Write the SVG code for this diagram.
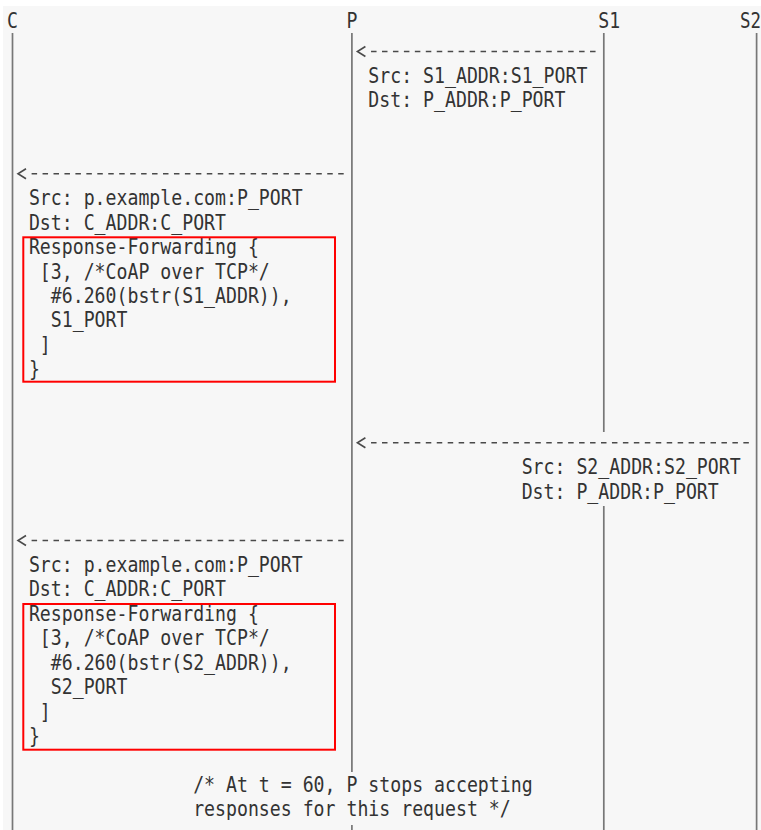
<svg xmlns="http://www.w3.org/2000/svg" width="761" height="830" viewBox="0 0 761 830">
<style>
text{font-family:"DejaVu Sans Mono","Liberation Mono",monospace;font-size:22px;fill:#333333;}
.life{stroke:#777;stroke-width:1.7;fill:none;}
.dash{stroke:#4a4a4a;stroke-width:1.6;stroke-dasharray:5.5 5.45;fill:none;}
.head{stroke:#4a4a4a;stroke-width:1.6;fill:none;stroke-linejoin:miter;}
.hl{fill:none;stroke:#ff0000;stroke-width:2;}
</style>
<rect x="0" y="0" width="761" height="830" fill="#f7f7f7"/>
<rect x="0" y="0" width="761" height="6" fill="#ffffff"/>
<rect x="0" y="0" width="3" height="830" fill="#ffffff"/>

<g id="C">
<text x="7" y="28" textLength="10.95" lengthAdjust="spacingAndGlyphs">C</text>
<line class="life" x1="12.5" y1="33" x2="12.5" y2="830"/>
</g>
<g id="P">
<text x="346.45" y="28" textLength="10.95" lengthAdjust="spacingAndGlyphs">P</text>
<path class="life" d="M351.9 33 V772 M351.9 825 V830"/>
</g>
<g id="S1">
<text x="598.3" y="28" textLength="21.9" lengthAdjust="spacingAndGlyphs">S1</text>
<path class="life" d="M603.8 33 V432 M603.8 506 V830"/>
</g>
<g id="S2">
<text x="740" y="28" textLength="21" lengthAdjust="spacingAndGlyphs">S2</text>
<line class="life" x1="756.6" y1="33" x2="756.6" y2="830"/>
</g>

<g id="connectors">
<g id="m1"><path class="dash" d="M371.05 51.5 H595.6"/><path class="head" d="M365.4 46.5 L357.4 51.5 L365.4 56.5"/></g>
<g id="m2"><path class="dash" d="M31.6 173.75 H343.8"/><path class="head" d="M26 168.75 L18 173.75 L26 178.75"/></g>
<g id="m3"><path class="dash" d="M371.05 442.7 H749.9"/><path class="head" d="M365.4 437.7 L357.4 442.7 L365.4 447.7"/></g>
<g id="m4"><path class="dash" d="M31.6 540.5 H343.8"/><path class="head" d="M26 535.5 L18 540.5 L26 545.5"/></g>
</g>

<g id="label-m1">
<text x="368.35" y="82.95" textLength="219" lengthAdjust="spacingAndGlyphs">Src: S1_ADDR:S1_PORT</text>
<text x="368.35" y="107.4" textLength="197.1" lengthAdjust="spacingAndGlyphs">Dst: P_ADDR:P_PORT</text>
</g>

<g id="label-m2">
<text x="28.9" y="205.2" textLength="273.75" lengthAdjust="spacingAndGlyphs">Src: p.example.com:P_PORT</text>
<text x="28.9" y="229.65" textLength="197.1" lengthAdjust="spacingAndGlyphs">Dst: C_ADDR:C_PORT</text>
<text x="28.9" y="254.1" textLength="229.95" lengthAdjust="spacingAndGlyphs">Response-Forwarding {</text>
<text x="39.85" y="278.55" textLength="229.95" lengthAdjust="spacingAndGlyphs">[3, /*CoAP over TCP*/</text>
<text x="50.8" y="303" textLength="240.9" lengthAdjust="spacingAndGlyphs">#6.260(bstr(S1_ADDR)),</text>
<text x="50.8" y="327.45" textLength="76.65" lengthAdjust="spacingAndGlyphs">S1_PORT</text>
<text x="39.85" y="351.9" textLength="10.95" lengthAdjust="spacingAndGlyphs">]</text>
<text x="28.9" y="376.35" textLength="10.95" lengthAdjust="spacingAndGlyphs">}</text>
<rect class="hl" x="23.3" y="237.3" width="311.7" height="144.4"/>
</g>

<g id="label-m3">
<text x="521.65" y="474.15" textLength="219" lengthAdjust="spacingAndGlyphs">Src: S2_ADDR:S2_PORT</text>
<text x="521.65" y="498.6" textLength="197.1" lengthAdjust="spacingAndGlyphs">Dst: P_ADDR:P_PORT</text>
</g>

<g id="label-m4">
<text x="28.9" y="572" textLength="273.75" lengthAdjust="spacingAndGlyphs">Src: p.example.com:P_PORT</text>
<text x="28.9" y="596.4" textLength="197.1" lengthAdjust="spacingAndGlyphs">Dst: C_ADDR:C_PORT</text>
<text x="28.9" y="620.85" textLength="229.95" lengthAdjust="spacingAndGlyphs">Response-Forwarding {</text>
<text x="39.85" y="645.3" textLength="229.95" lengthAdjust="spacingAndGlyphs">[3, /*CoAP over TCP*/</text>
<text x="50.8" y="669.75" textLength="240.9" lengthAdjust="spacingAndGlyphs">#6.260(bstr(S2_ADDR)),</text>
<text x="50.8" y="694.2" textLength="76.65" lengthAdjust="spacingAndGlyphs">S2_PORT</text>
<text x="39.85" y="718.65" textLength="10.95" lengthAdjust="spacingAndGlyphs">]</text>
<text x="28.9" y="743.1" textLength="10.95" lengthAdjust="spacingAndGlyphs">}</text>
<rect class="hl" x="23.3" y="604" width="311.7" height="145.7"/>
</g>

<g id="note">
<text x="193.15" y="792" textLength="339.45" lengthAdjust="spacingAndGlyphs">/* At t = 60, P stops accepting</text>
<text x="193.15" y="816.45" textLength="317.55" lengthAdjust="spacingAndGlyphs">responses for this request */</text>
</g>
</svg>
